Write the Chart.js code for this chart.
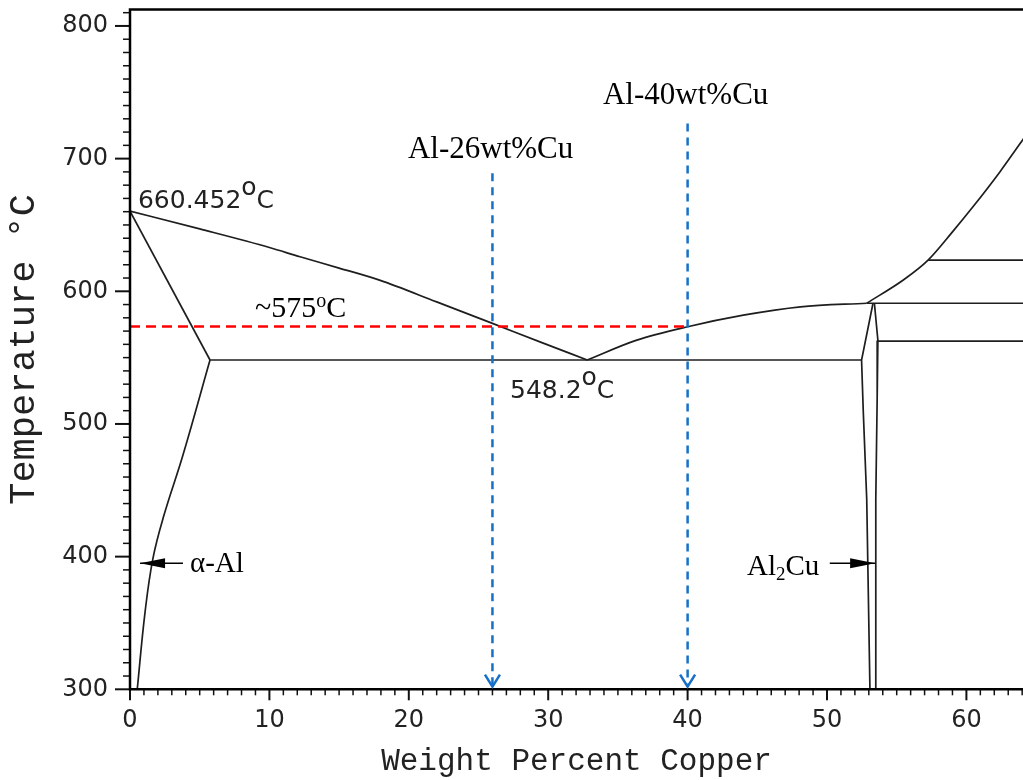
<!DOCTYPE html>
<html>
<head>
<meta charset="utf-8">
<title>Al-Cu phase diagram</title>
<script src="https://cdn.jsdelivr.net/npm/chart.js@4.4.1/dist/chart.umd.min.js"></script>
<style>
html,body{margin:0;padding:0;background:#fff;overflow:hidden;}
canvas{display:block;}
</style>
</head>
<body>
<canvas id="phase" width="1023" height="780"></canvas>
<script>
// axis ranges (wt% Cu / deg C)
const wtMin = 0, wtMax = 64.06;
const tMin = 300, tMax = 812.4;

// liquidus, Al rich side
const liqLeftWt = [0, 5, 10, 12.2, 15, 17.9, 22, 26, 29.5, 32.8];
const liqLeftT = [660.452, 647, 633, 626, 617.5, 608.4, 592, 575.8, 561.5, 548.2];
// solidus of alpha-Al
const solidusWt = [0, 5.74];
const solidusT = [660.452, 548.2];
// solvus of alpha-Al
const solvusWt = [5.74, 3.8, 2.44, 1.65, 1.08, 0.52];
const solvusT = [548.2, 476.6, 431.3, 398.9, 358.2, 300];
// eutectic isotherm
const eutWt = [5.74, 52.48];
const eutT = [548.2, 548.2];
// liquidus, Al2Cu side
const liqRightWt = [32.8, 36.3, 40, 44, 48.1, 52.85];
const liqRightT = [548.2, 563, 573.3, 582, 588.3, 591];
// Al2Cu boundaries
const thetaLeftWt = [53.3, 52.48, 52.6, 52.85, 53.08];
const thetaLeftT = [591, 548.2, 510, 443, 300];
const thetaRightWt = [53.4, 53.65, 53.6, 53.5, 53.5];
const thetaRightT = [591, 563, 520, 443, 300];
// liquidus past Al2Cu
const liqUpperWt = [52.85, 55.5, 57.25, 59, 60.47, 62.4, 64.5];
const liqUpperT = [591, 608.7, 623.5, 644.8, 663.7, 690, 721];
// isotherms on the right
const iso591Wt = [52.85, 64.5], iso591T = [591, 591];
const iso624Wt = [57.25, 64.5], iso624T = [623.5, 623.5];
const iso563Wt = [53.65, 64.5], iso563T = [562.5, 562.5];
// guide lines
const redWt = [0, 40], redT = [573.5, 573.5];
const alloyWt = [26, 40];
const alloyTopT = [689, 726.5];
const alloyBottomT = 302;

function pts(xs, ys) {
  return xs.map((v, i) => ({x: v, y: ys[i]}));
}

const black = '#1e1e1e';
function phaseLine(xs, ys, smooth) {
  const ds = {data: pts(xs, ys), borderColor: black, borderWidth: 1.7, tension: 0, order: 2};
  if (smooth === 'mono') ds.cubicInterpolationMode = 'monotone';
  else if (smooth) ds.tension = smooth;
  return ds;
}

const datasets = [
  phaseLine(liqLeftWt, liqLeftT, 'mono'),
  phaseLine(solidusWt, solidusT),
  phaseLine(solvusWt, solvusT, 0.4),
  phaseLine(eutWt, eutT),
  phaseLine(liqRightWt, liqRightT, 'mono'),
  phaseLine(thetaLeftWt, thetaLeftT),
  phaseLine(thetaRightWt, thetaRightT),
  phaseLine(liqUpperWt, liqUpperT, 'mono'),
  phaseLine(iso591Wt, iso591T),
  phaseLine(iso624Wt, iso624T),
  phaseLine(iso563Wt, iso563T),
  {data: pts(redWt, redT), borderColor: '#ff0000', borderWidth: 2.5, borderDash: [10, 6], order: 0}
];
alloyWt.forEach((w, i) => {
  datasets.push({data: pts([w, w], [alloyTopT[i], alloyBottomT]), borderColor: '#1670c8',
    borderWidth: 2.5, borderDash: [8, 6], order: 0});
});

const plotFont = '25px "DejaVu Sans"';
const serif = s => s + 'px "Liberation Serif"';
// text notes, anchored in data units (left / baseline)
const notes = [
  {wt: 0.57, t: 662.7, color: '#222', parts: [['660.452', plotFont], ['o', plotFont, -13], ['C', plotFont]]},
  {wt: 27.26, t: 519.5, color: '#222', parts: [['548.2', plotFont], ['o', plotFont, -13], ['C', plotFont]]},
  {wt: 8.97, t: 580.6, color: '#000', parts: [['~575', serif(30)], ['o', serif(20), -10], ['C', serif(30)]]},
  {wt: 19.94, t: 700.5, color: '#000', parts: [['Al-26wt%Cu', serif(31)]]},
  {wt: 33.93, t: 741.3, color: '#000', parts: [['Al-40wt%Cu', serif(31)]]},
  {wt: 4.3, t: 388.4, color: '#000', parts: [['α-Al', serif(29)]]},
  {wt: 44.26, t: 386.1, color: '#000', parts: [['Al', serif(29)], ['2', serif(19), 5], ['Cu', serif(29)]]}
];
// pointer arrows: tail -> tip
const pointers = [
  {from: [3.8, 395], to: [0.72, 395]},
  {from: [50.2, 395], to: [53.45, 395]}
];

function drawRich(ctx, px, py, parts) {
  let cx = px;
  for (const [txt, font, dy] of parts) {
    ctx.font = font;
    ctx.fillText(txt, cx, py + (dy || 0));
    cx += ctx.measureText(txt).width;
  }
}

const overlay = {
  id: 'overlay',
  afterDatasetsDraw(chart) {
    const {ctx, chartArea: a, scales: {x, y}} = chart;
    ctx.save();
    // minor/major ticks
    ctx.strokeStyle = '#111';
    for (let v = 0; v <= 64; v++) {
      const px = x.getPixelForValue(v);
      const major = v % 10 === 0;
      ctx.lineWidth = major ? 2 : 1.5;
      ctx.beginPath();
      ctx.moveTo(px, a.bottom);
      ctx.lineTo(px, a.bottom + (major ? 11 : 6));
      ctx.stroke();
    }
    for (let v = 300; v <= 810; v += 10) {
      const py = y.getPixelForValue(v);
      const major = v % 100 === 0;
      ctx.lineWidth = major ? 2 : 1.5;
      ctx.beginPath();
      ctx.moveTo(a.left, py);
      ctx.lineTo(a.left - (major ? 15 : 7), py);
      ctx.stroke();
    }
    // frame
    ctx.lineWidth = 2.5;
    ctx.strokeStyle = '#000';
    ctx.beginPath();
    ctx.moveTo(a.right + 3, a.top);
    ctx.lineTo(a.left, a.top);
    ctx.lineTo(a.left, a.bottom);
    ctx.lineTo(a.right + 3, a.bottom);
    ctx.stroke();

    // blue arrow heads
    ctx.strokeStyle = '#1670c8';
    ctx.lineWidth = 2.5;
    alloyWt.forEach(w => {
      const px = x.getPixelForValue(w);
      const tip = y.getPixelForValue(alloyBottomT);
      ctx.beginPath();
      ctx.moveTo(px - 7.5, tip - 12);
      ctx.lineTo(px, tip);
      ctx.lineTo(px + 7.5, tip - 12);
      ctx.stroke();
    });

    // black pointers
    ctx.strokeStyle = '#000';
    ctx.fillStyle = '#000';
    pointers.forEach(p => {
      const x0 = x.getPixelForValue(p.from[0]), y0 = y.getPixelForValue(p.from[1]);
      const x1 = x.getPixelForValue(p.to[0]), y1 = y.getPixelForValue(p.to[1]);
      const dir = Math.sign(x1 - x0);
      ctx.lineWidth = 1.6;
      ctx.beginPath();
      ctx.moveTo(x0, y0);
      ctx.lineTo(x1, y1);
      ctx.stroke();
      ctx.beginPath();
      ctx.moveTo(x1, y1);
      ctx.lineTo(x1 - dir * 25, y1 - 5);
      ctx.lineTo(x1 - dir * 25, y1 + 5);
      ctx.closePath();
      ctx.fill();
    });

    // notes
    ctx.textAlign = 'left';
    ctx.textBaseline = 'alphabetic';
    notes.forEach(n => {
      ctx.fillStyle = n.color;
      drawRich(ctx, x.getPixelForValue(n.wt), y.getPixelForValue(n.t), n.parts);
    });
    ctx.restore();
  }
};

function noPad(s) {
  s.paddingTop = 0;
  s.paddingBottom = 0;
  s.paddingLeft = 0;
  s.paddingRight = 0;
}

new Chart(document.getElementById('phase'), {
  type: 'scatter',
  data: {datasets: datasets},
  options: {
    responsive: false,
    animation: false,
    showLine: true,
    devicePixelRatio: 1,
    layout: {padding: {top: 9.5, left: 0, right: 0, bottom: 0}},
    elements: {point: {radius: 0, hoverRadius: 0}},
    plugins: {legend: {display: false}, tooltip: {enabled: false}},
    scales: {
      x: {
        type: 'linear', min: wtMin, max: wtMax,
        grid: {display: false, drawTicks: false},
        border: {display: false},
        ticks: {
          stepSize: 10, includeBounds: false, autoSkip: false, maxRotation: 0, padding: 17,
          color: '#222', font: {family: 'DejaVu Sans', size: 24},
          callback: v => (v % 10 === 0 ? String(v) : '')
        },
        title: {display: true, text: 'Weight Percent Copper', color: '#222',
          font: {family: 'Liberation Mono', size: 31}, padding: {top: 0, bottom: 0}},
        afterFit: s => { s.height = 90.7; noPad(s); }
      },
      y: {
        type: 'linear', min: tMin, max: tMax,
        grid: {display: false, drawTicks: false},
        border: {display: false},
        ticks: {
          stepSize: 100, includeBounds: false, padding: 22,
          color: '#222', font: {family: 'DejaVu Sans', size: 24},
          callback: v => (v % 100 === 0 ? String(v) : '')
        },
        title: {display: true, text: 'Temperature °C', color: '#222',
          font: {family: 'Liberation Mono', size: 37}, padding: {top: 2, bottom: 0}},
        afterFit: s => { s.width = 130; noPad(s); }
      }
    }
  },
  plugins: [overlay]
});
</script>
</body>
</html>
